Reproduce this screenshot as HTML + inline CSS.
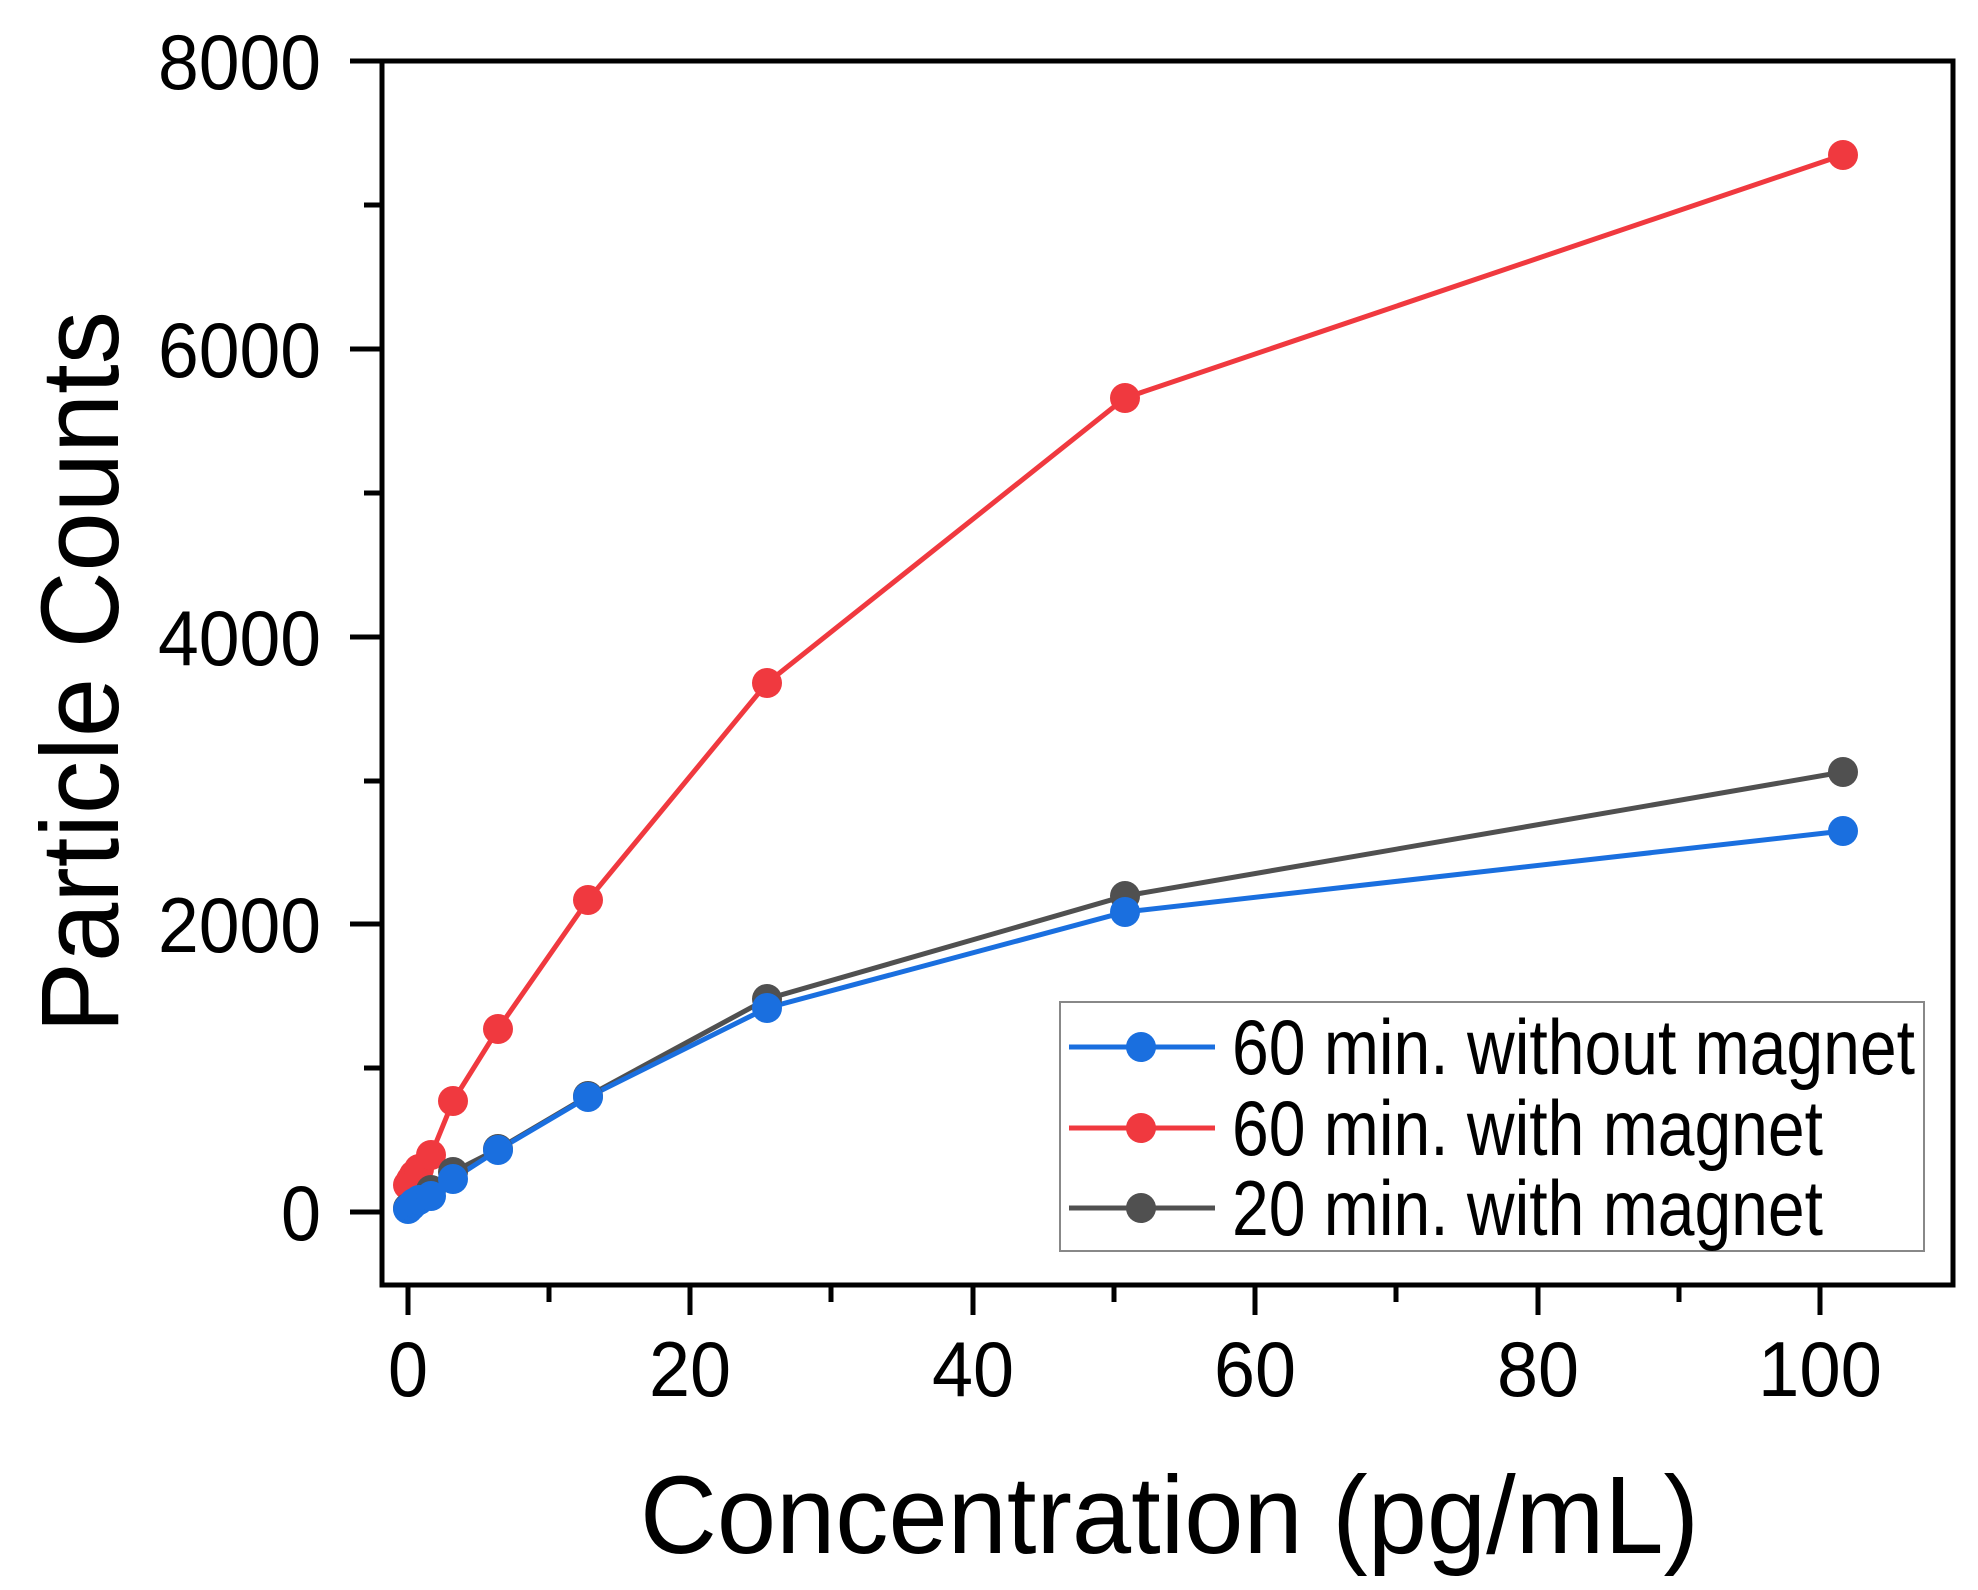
<!DOCTYPE html>
<html><head><style>body{margin:0;background:#fff}svg{display:block}</style></head>
<body>
<svg width="1978" height="1590" xmlns="http://www.w3.org/2000/svg" font-family="Liberation Sans, Arial, sans-serif">
<rect width="1978" height="1590" fill="#fff"/>
<rect x="382" y="61" width="1571" height="1224" fill="none" stroke="#000" stroke-width="5"/>
<g stroke="#000" stroke-width="5">
<line x1="350" y1="61" x2="382" y2="61"/><line x1="350" y1="349" x2="382" y2="349"/>
<line x1="350" y1="637" x2="382" y2="637"/><line x1="350" y1="924" x2="382" y2="924"/>
<line x1="350" y1="1212" x2="382" y2="1212"/>
<line x1="364" y1="205" x2="382" y2="205"/><line x1="364" y1="493" x2="382" y2="493"/>
<line x1="364" y1="781" x2="382" y2="781"/><line x1="364" y1="1068" x2="382" y2="1068"/>
<line x1="408" y1="1285" x2="408" y2="1315"/><line x1="690" y1="1285" x2="690" y2="1315"/>
<line x1="973" y1="1285" x2="973" y2="1315"/><line x1="1255" y1="1285" x2="1255" y2="1315"/>
<line x1="1538" y1="1285" x2="1538" y2="1315"/><line x1="1820" y1="1285" x2="1820" y2="1315"/>
<line x1="549" y1="1285" x2="549" y2="1302"/><line x1="831" y1="1285" x2="831" y2="1302"/>
<line x1="1114" y1="1285" x2="1114" y2="1302"/><line x1="1396" y1="1285" x2="1396" y2="1302"/>
<line x1="1679" y1="1285" x2="1679" y2="1302"/>
</g>
<g font-size="78" text-anchor="end" fill="#000">
<text x="321" y="89" textLength="163" lengthAdjust="spacingAndGlyphs">8000</text>
<text x="321" y="377" textLength="163" lengthAdjust="spacingAndGlyphs">6000</text>
<text x="321" y="665" textLength="163" lengthAdjust="spacingAndGlyphs">4000</text>
<text x="321" y="952" textLength="163" lengthAdjust="spacingAndGlyphs">2000</text>
<text x="321" y="1240" textLength="40" lengthAdjust="spacingAndGlyphs">0</text>
</g>
<g font-size="78" text-anchor="middle" fill="#000">
<text x="408" y="1396" textLength="40" lengthAdjust="spacingAndGlyphs">0</text>
<text x="690" y="1396" textLength="82" lengthAdjust="spacingAndGlyphs">20</text>
<text x="973" y="1396" textLength="82" lengthAdjust="spacingAndGlyphs">40</text>
<text x="1255" y="1396" textLength="82" lengthAdjust="spacingAndGlyphs">60</text>
<text x="1538" y="1396" textLength="82" lengthAdjust="spacingAndGlyphs">80</text>
<text x="1820" y="1396" textLength="124" lengthAdjust="spacingAndGlyphs">100</text>
</g>
<text x="640" y="1553" font-size="110" textLength="1059" lengthAdjust="spacingAndGlyphs">Concentration (pg/mL)</text>
<text transform="translate(118,1033) rotate(-90)" font-size="110" textLength="722" lengthAdjust="spacingAndGlyphs">Particle Counts</text>
<g stroke-width="5" fill="none">
<polyline stroke="#f0393f" points="408,1185 411,1180 414,1175 419,1169 431,1155 453,1101 498,1029 588,900 767,683 1125,398 1843,155"/>
<polyline stroke="#505050" points="408,1208 411,1205 414,1202 419,1199 431,1190 453,1172 498,1149 588,1096 767,999 1125,896 1843,772"/>
<polyline stroke="#1a6fdf" points="408,1209 411,1206 414,1203 419,1200 431,1196 453,1179 498,1150 588,1097 767,1008 1125,912 1843,831"/>
</g>
<g fill="#f0393f">
<circle cx="408" cy="1185" r="15"/><circle cx="411" cy="1180" r="15"/><circle cx="414" cy="1175" r="15"/><circle cx="419" cy="1169" r="15"/><circle cx="431" cy="1155" r="15"/><circle cx="453" cy="1101" r="15"/><circle cx="498" cy="1029" r="15"/><circle cx="588" cy="900" r="15"/><circle cx="767" cy="683" r="15"/><circle cx="1125" cy="398" r="15"/><circle cx="1843" cy="155" r="15"/>
</g>
<g fill="#505050">
<circle cx="408" cy="1208" r="15"/><circle cx="431" cy="1190" r="15"/><circle cx="453" cy="1172" r="15"/><circle cx="498" cy="1149" r="15"/><circle cx="588" cy="1096" r="15"/><circle cx="767" cy="999" r="15"/><circle cx="1125" cy="896" r="15"/><circle cx="1843" cy="772" r="15"/>
</g>
<g fill="#1a6fdf">
<circle cx="408" cy="1209" r="15"/><circle cx="411" cy="1206" r="15"/><circle cx="414" cy="1203" r="15"/><circle cx="419" cy="1200" r="15"/><circle cx="431" cy="1196" r="15"/><circle cx="453" cy="1179" r="15"/><circle cx="498" cy="1150" r="15"/><circle cx="588" cy="1097" r="15"/><circle cx="767" cy="1008" r="15"/><circle cx="1125" cy="912" r="15"/><circle cx="1843" cy="831" r="15"/>
</g>
<rect x="1060" y="1002" width="864" height="249" fill="#fff" stroke="#888" stroke-width="2"/>
<line x1="1069" y1="1047" x2="1215" y2="1047" stroke="#1a6fdf" stroke-width="5"/><circle cx="1141" cy="1047" r="15" fill="#1a6fdf"/>
<line x1="1069" y1="1128" x2="1215" y2="1128" stroke="#f0393f" stroke-width="5"/><circle cx="1141" cy="1128" r="15" fill="#f0393f"/>
<line x1="1069" y1="1208" x2="1215" y2="1208" stroke="#505050" stroke-width="5"/><circle cx="1141" cy="1208" r="15" fill="#505050"/>
<g font-size="78" fill="#000">
<text x="1232" y="1074" textLength="683" lengthAdjust="spacingAndGlyphs">60 min. without magnet</text>
<text x="1232" y="1155" textLength="591" lengthAdjust="spacingAndGlyphs">60 min. with magnet</text>
<text x="1232" y="1235" textLength="591" lengthAdjust="spacingAndGlyphs">20 min. with magnet</text>
</g>
</svg>
</body></html>
